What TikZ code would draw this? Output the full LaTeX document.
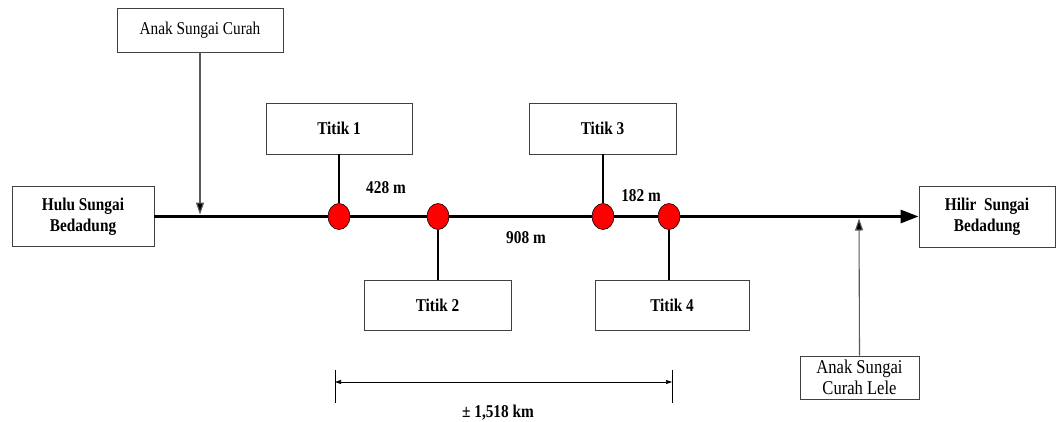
\documentclass[tikz,border=0pt]{standalone}
\usepackage{fontspec}
\setmainfont[FakeStretch=0.85]{Liberation Serif}
\usetikzlibrary{arrows.meta,shapes.geometric}
\begin{document}
\begin{tikzpicture}[x=1pt,y=-1pt,
  box/.style={draw=black!75,line width=0.9pt,fill=white,inner sep=0pt,align=center},
  bold/.style={font=\fontsize{18}{21}\selectfont\bfseries},
  reg/.style={font=\fontsize{18}{21}\selectfont},
  pt/.style={ellipse,draw=black,line width=0.6pt,fill=red,minimum width=22pt,minimum height=26pt,inner sep=0pt},
  mainline/.style={line width=3pt,-{Triangle[length=18pt,width=13pt]}},
  link/.style={line width=2.4pt},
  thinarrow/.style={draw=black!65,line width=1.1pt,-{Triangle[length=12pt,width=8pt,fill=black]}},
  dimline/.style={line width=0.7pt,{Triangle[length=6pt,width=4pt]}-{Triangle[length=6pt,width=4pt]}},
  lbl/.style={bold,inner sep=0pt}
]
\useasboundingbox[fill=white] (0,0) rectangle (1056,421);

% boxes
\node[box,reg,minimum width=166pt,minimum height=44pt] (cur) at (200,30) {Anak Sungai Curah};
\node[box,bold,minimum width=142pt,minimum height=60pt] (hulu) at (83,216.5) {Hulu Sungai\\Bedadung};
\node[box,bold,minimum width=136pt,minimum height=61pt] (hilir) at (987,216.5) {Hilir\ \ Sungai\\Bedadung};
\node[box,bold,minimum width=146pt,minimum height=51pt] (t1) at (339,128.5) {Titik 1};
\node[box,bold,minimum width=147pt,minimum height=51pt] (t3) at (602.5,128.5) {Titik 3};
\node[box,bold,minimum width=147pt,minimum height=50pt] (t2) at (437.5,305) {Titik 2};
\node[box,bold,minimum width=154pt,minimum height=50pt] (t4) at (672,305) {Titik 4};
\node[box,minimum width=119pt,minimum height=43pt,font=\fontsize{19.5}{21}\selectfont] (lele) at (859.5,377.5) {Anak Sungai\\Curah Lele};

% main river
\draw[mainline] (hulu.east) -- (hilir.west);

% sampling points
\node[pt] (c1) at (339,216.5) {};
\node[pt] (c2) at (438,216.5) {};
\node[pt] (c3) at (603,216.5) {};
\node[pt] (c4) at (669,216.5) {};

\draw[link] (t1.south -| c1) -- (c1.north);
\draw[link] (t3.south -| c3) -- (c3.north);
\draw[link] (c2.south) -- (t2.north -| c2);
\draw[link] (c4.south) -- (t4.north -| c4);

% tributaries
\coordinate (j1) at (200,214.5);
\coordinate (j2) at (859,218.5);
\draw[thinarrow] (cur.south) -- (j1);
\draw[thinarrow] (lele.north) -- (j2);

% distance labels
\node[lbl] (d428) at (386,188) {428 m};
\node[lbl] (d908) at (526,238) {908 m};
\node[lbl] (d182) at (641,196) {182 m};

% dimension line
\coordinate (a1) at (335,370);
\coordinate (a2) at (335,403);
\coordinate (b1) at (672,370);
\coordinate (b2) at (672,403);
\coordinate (da) at (335,382);
\coordinate (db) at (672,382);
\draw[line width=0.7pt] (a1) -- (a2);
\draw[line width=0.7pt] (b1) -- (b2);
\draw[dimline] (da) -- (db);
\node[lbl] (tot) at (498,413) {± 1,518 km};
\end{tikzpicture}
\end{document}
